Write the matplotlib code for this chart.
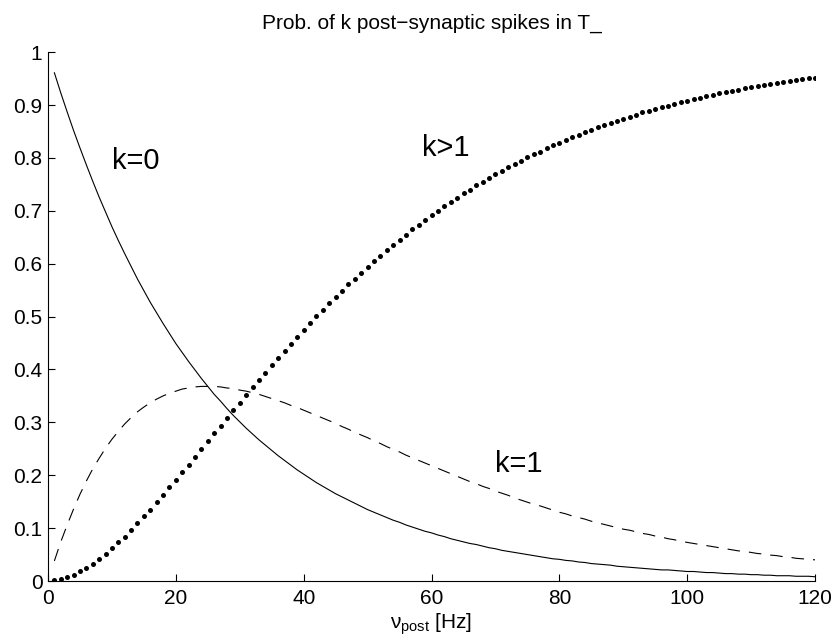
import numpy as np
import matplotlib
matplotlib.use("Agg")
import matplotlib.pyplot as plt
from matplotlib.ticker import FuncFormatter

plt.rcParams["font.family"] = ["Liberation Sans", "DejaVu Sans"]
plt.rcParams["mathtext.fontset"] = "custom"
plt.rcParams["mathtext.rm"] = "Liberation Sans"
plt.rcParams["mathtext.it"] = "Liberation Sans"
plt.rcParams["lines.scale_dashes"] = False

# post-synaptic rate, 1 Hz steps
nu_post = np.arange(1, 121)

# P(k=0)
p_k0 = [
    0.961, 0.923, 0.887, 0.852, 0.819, 0.787, 0.756, 0.726, 0.698, 0.670,
    0.644, 0.619, 0.595, 0.571, 0.549, 0.527, 0.507, 0.487, 0.468, 0.449,
    0.432, 0.415, 0.399, 0.383, 0.368, 0.353, 0.340, 0.326, 0.313, 0.301,
    0.289, 0.278, 0.267, 0.257, 0.247, 0.237, 0.228, 0.219, 0.210, 0.202,
    0.194, 0.186, 0.179, 0.172, 0.165, 0.159, 0.153, 0.147, 0.141, 0.135,
    0.130, 0.125, 0.120, 0.115, 0.111, 0.106, 0.102, 0.098, 0.094, 0.091,
    0.087, 0.084, 0.080, 0.077, 0.074, 0.071, 0.069, 0.066, 0.063, 0.061,
    0.058, 0.056, 0.054, 0.052, 0.050, 0.048, 0.046, 0.044, 0.042, 0.041,
    0.039, 0.038, 0.036, 0.035, 0.033, 0.032, 0.031, 0.030, 0.028, 0.027,
    0.026, 0.025, 0.024, 0.023, 0.022, 0.021, 0.021, 0.020, 0.019, 0.018,
    0.018, 0.017, 0.016, 0.016, 0.015, 0.014, 0.014, 0.013, 0.013, 0.012,
    0.012, 0.011, 0.011, 0.010, 0.010, 0.010, 0.009, 0.009, 0.009, 0.008,
]

# P(k=1)
p_k1 = [
    0.038, 0.074, 0.106, 0.136, 0.164, 0.189, 0.212, 0.232, 0.251, 0.268,
    0.283, 0.297, 0.309, 0.320, 0.329, 0.337, 0.344, 0.350, 0.355, 0.359,
    0.363, 0.365, 0.367, 0.368, 0.368, 0.368, 0.367, 0.365, 0.364, 0.361,
    0.359, 0.356, 0.353, 0.349, 0.345, 0.341, 0.337, 0.332, 0.328, 0.323,
    0.318, 0.313, 0.308, 0.303, 0.298, 0.292, 0.287, 0.281, 0.276, 0.271,
    0.265, 0.260, 0.254, 0.249, 0.244, 0.238, 0.233, 0.228, 0.223, 0.218,
    0.213, 0.208, 0.203, 0.198, 0.193, 0.188, 0.184, 0.179, 0.175, 0.170,
    0.166, 0.162, 0.157, 0.153, 0.149, 0.145, 0.142, 0.138, 0.134, 0.130,
    0.127, 0.123, 0.120, 0.117, 0.113, 0.110, 0.107, 0.104, 0.101, 0.098,
    0.096, 0.093, 0.090, 0.088, 0.085, 0.083, 0.080, 0.078, 0.075, 0.073,
    0.071, 0.069, 0.067, 0.065, 0.063, 0.061, 0.059, 0.057, 0.056, 0.054,
    0.052, 0.051, 0.049, 0.048, 0.046, 0.045, 0.043, 0.042, 0.041, 0.040,
]

# P(k>1)
p_kmore = [
    0.001, 0.003, 0.007, 0.012, 0.018, 0.025, 0.033, 0.041, 0.051, 0.062,
    0.073, 0.084, 0.096, 0.109, 0.122, 0.135, 0.149, 0.163, 0.177, 0.191,
    0.206, 0.220, 0.235, 0.250, 0.264, 0.279, 0.294, 0.308, 0.323, 0.337,
    0.352, 0.366, 0.380, 0.394, 0.408, 0.422, 0.435, 0.449, 0.462, 0.475,
    0.488, 0.501, 0.513, 0.525, 0.537, 0.549, 0.561, 0.572, 0.583, 0.594,
    0.605, 0.615, 0.625, 0.636, 0.645, 0.655, 0.665, 0.674, 0.683, 0.692,
    0.700, 0.709, 0.717, 0.725, 0.733, 0.740, 0.748, 0.755, 0.762, 0.769,
    0.776, 0.782, 0.789, 0.795, 0.801, 0.807, 0.812, 0.818, 0.824, 0.829,
    0.834, 0.839, 0.844, 0.849, 0.853, 0.858, 0.862, 0.866, 0.870, 0.874,
    0.878, 0.882, 0.886, 0.889, 0.893, 0.896, 0.899, 0.902, 0.905, 0.908,
    0.911, 0.914, 0.917, 0.919, 0.922, 0.925, 0.927, 0.929, 0.932, 0.934,
    0.936, 0.938, 0.940, 0.942, 0.944, 0.946, 0.947, 0.949, 0.951, 0.952,
]

fig = plt.figure(figsize=(8.36, 6.44), dpi=100)
ax = fig.add_axes([0.0574, 0.0978, 0.9176, 0.8212])

ax.plot(nu_post, p_k0, color="black", lw=0.8)
ax.plot(nu_post, p_k1, color="black", lw=0.8, dashes=(9, 6.5))
ax.plot(nu_post, p_kmore, linestyle="none", marker="o", ms=3.6,
        color="black", markeredgewidth=0)

ax.text(10, 0.795, "k=0", fontsize=21, va="center", ha="left")
ax.text(58.5, 0.818, "k>1", fontsize=21, va="center", ha="left")
ax.text(70, 0.221, "k=1", fontsize=21, va="center", ha="left")

ax.set_xlim(0, 120)
ax.set_ylim(0, 1)
ax.set_xticks(np.arange(0, 121, 20))
ax.set_yticks(np.round(np.arange(0, 1.01, 0.1), 1))
ax.yaxis.set_major_formatter(FuncFormatter(lambda v, p: f"{v:g}"))

ax.spines["top"].set_visible(False)
ax.spines["right"].set_visible(False)
for s in ("left", "bottom"):
    ax.spines[s].set_linewidth(0.8)
ax.tick_params(direction="in", length=5, width=0.8, labelsize=15)
ax.tick_params(axis="x", pad=6)
ax.tick_params(axis="y", pad=4)

ax.set_title("Prob. of k post\u2212synaptic spikes in T_", fontsize=15, pad=17)
ax.set_xlabel(r"ν$_{\mathrm{post}}$ [Hz]", fontsize=15, labelpad=2)

plt.savefig("out.png", dpi=100)
